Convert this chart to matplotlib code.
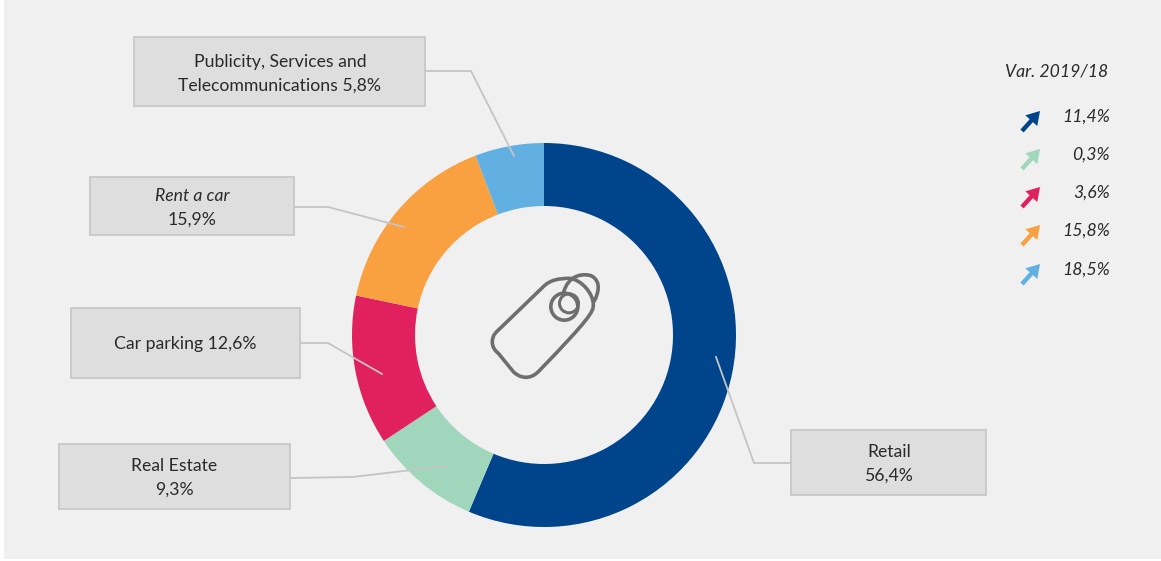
import matplotlib
matplotlib.use('Agg')
import matplotlib.pyplot as plt
from matplotlib.patches import Rectangle, Circle, FancyArrow, PathPatch
from matplotlib.path import Path

segments = ['Retail', 'Real Estate', 'Car parking', 'Rent a car', 'Publicity']
shares = [56.4, 9.3, 12.6, 15.9, 5.8]
colors = ['#00458c', '#a0d6bc', '#e0205f', '#f9a040', '#62b0e2']
variations = ['11,4%', '0,3%', '3,6%', '15,8%', '18,5%']

W, H = 1161, 561
BG = '#f0f0f0'
TXT = '#2a2a2a'
plt.rcParams['font.family'] = ['Lato', 'DejaVu Sans']

fig = plt.figure(figsize=(W / 100, H / 100), dpi=100, facecolor='white')
ax = fig.add_axes([0, 0, 1, 1])

def Y(y):
    return H - y

ax.add_patch(Rectangle((4, Y(559)), W - 4, 559, facecolor=BG, edgecolor='none', zorder=0))

# donut
ax.pie(shares, colors=colors, startangle=90, counterclock=False, center=(544, Y(335)),
       radius=192, wedgeprops=dict(width=63, edgecolor='none'), frame=True)
ax.set_xlim(0, W)
ax.set_ylim(0, H)
ax.set_aspect('auto')
ax.axis('off')

# callout boxes and their leader lines
boxes = [
    (791, 430, 986, 495),
    (59, 444, 290, 509),
    (71, 308, 300, 378),
    (90, 177, 294, 235),
    (134, 37, 425, 106),
]
leaders = [
    [(716, 357), (754, 463), (791, 463)],
    [(447, 466), (352, 477), (290, 478)],
    [(382, 374), (328, 343), (300, 343)],
    [(404, 227), (328, 207), (294, 207)],
    [(514, 156), (471, 71), (425, 71)],
]
for pts in leaders:
    ax.plot([p[0] for p in pts], [Y(p[1]) for p in pts], color='#c4c4c4', lw=1.3, zorder=3)
for x0, y0, x1, y1 in boxes:
    ax.add_patch(Rectangle((x0, Y(y1)), x1 - x0, y1 - y0, facecolor='#dedede',
                           edgecolor='#c8c8c8', lw=1.3, zorder=4))

fs = 12.7
def lab(x, y, s, **kw):
    ax.text(x, Y(y), s, ha='center', va='center', fontsize=fs, color=TXT, zorder=5, **kw)

def pct(v):
    return f'{v:.1f}%'.replace('.', ',')

lab(889, 452, segments[0])
lab(889, 476, pct(shares[0]))
lab(174, 466, segments[1])
lab(174, 490, pct(shares[1]))
lab(185, 344, f'{segments[2]} {pct(shares[2])}')
lab(192, 196, segments[3], style='italic')
lab(192, 220, pct(shares[3]))
lab(280, 62, 'Publicity, Services and')
lab(280, 86, f'Telecommunications {pct(shares[4])}')

# variation column
ax.text(1057, Y(71), 'Var. 2019/18', ha='center', va='center', fontsize=fs, style='italic', color=TXT)
rows = [116, 154, 192, 230, 269]
for c, v, y in zip(colors, variations, rows):
    ax.text(1110, Y(y + 1), v, ha='right', va='center', fontsize=fs, style='italic', color=TXT)
    ax.add_patch(FancyArrow(1022, Y(y + 15), 18, 20, width=4.4, head_width=16, head_length=13,
                            length_includes_head=True, facecolor=c, edgecolor='none', zorder=3))

# price tag icon
def icon(x, y):
    return (470 + x / 3, Y(250 + y / 3))

tag_v = [(75, 250), (220, 110), (240, 90), (265, 85), (300, 85), (335, 90), (370, 130), (370, 165),
         (370, 185), (360, 205), (205, 365), (180, 390), (150, 385), (130, 365), (85, 310),
         (60, 290), (65, 265), (75, 250)]
tag_c = [Path.MOVETO, Path.LINETO, Path.CURVE4, Path.CURVE4, Path.CURVE4, Path.CURVE4, Path.CURVE4,
         Path.CURVE4, Path.CURVE4, Path.CURVE4, Path.LINETO, Path.CURVE4, Path.CURVE4, Path.CURVE4,
         Path.LINETO, Path.CURVE4, Path.CURVE4, Path.CURVE4]
ax.add_patch(PathPatch(Path([icon(*p) for p in tag_v], tag_c), facecolor='none',
                       edgecolor='#6e6e6e', lw=2.6, zorder=3))
loop_v = [(280, 130), (295, 70), (345, 70), (365, 78), (395, 95), (385, 130), (372, 155)]
loop_c = [Path.MOVETO] + [Path.CURVE4] * 6
ax.add_patch(PathPatch(Path([icon(*p) for p in loop_v], loop_c), facecolor='none',
                       edgecolor='#6e6e6e', lw=2.6, zorder=3))
ax.add_patch(Circle(icon(283, 170), 13.5, facecolor='none', edgecolor='#6e6e6e', lw=2.6, zorder=3))
ax.add_patch(Circle(icon(297, 160), 9.5, facecolor='none', edgecolor='#6e6e6e', lw=2.2, zorder=3))

fig.savefig('out.png', dpi=100, facecolor='white')
